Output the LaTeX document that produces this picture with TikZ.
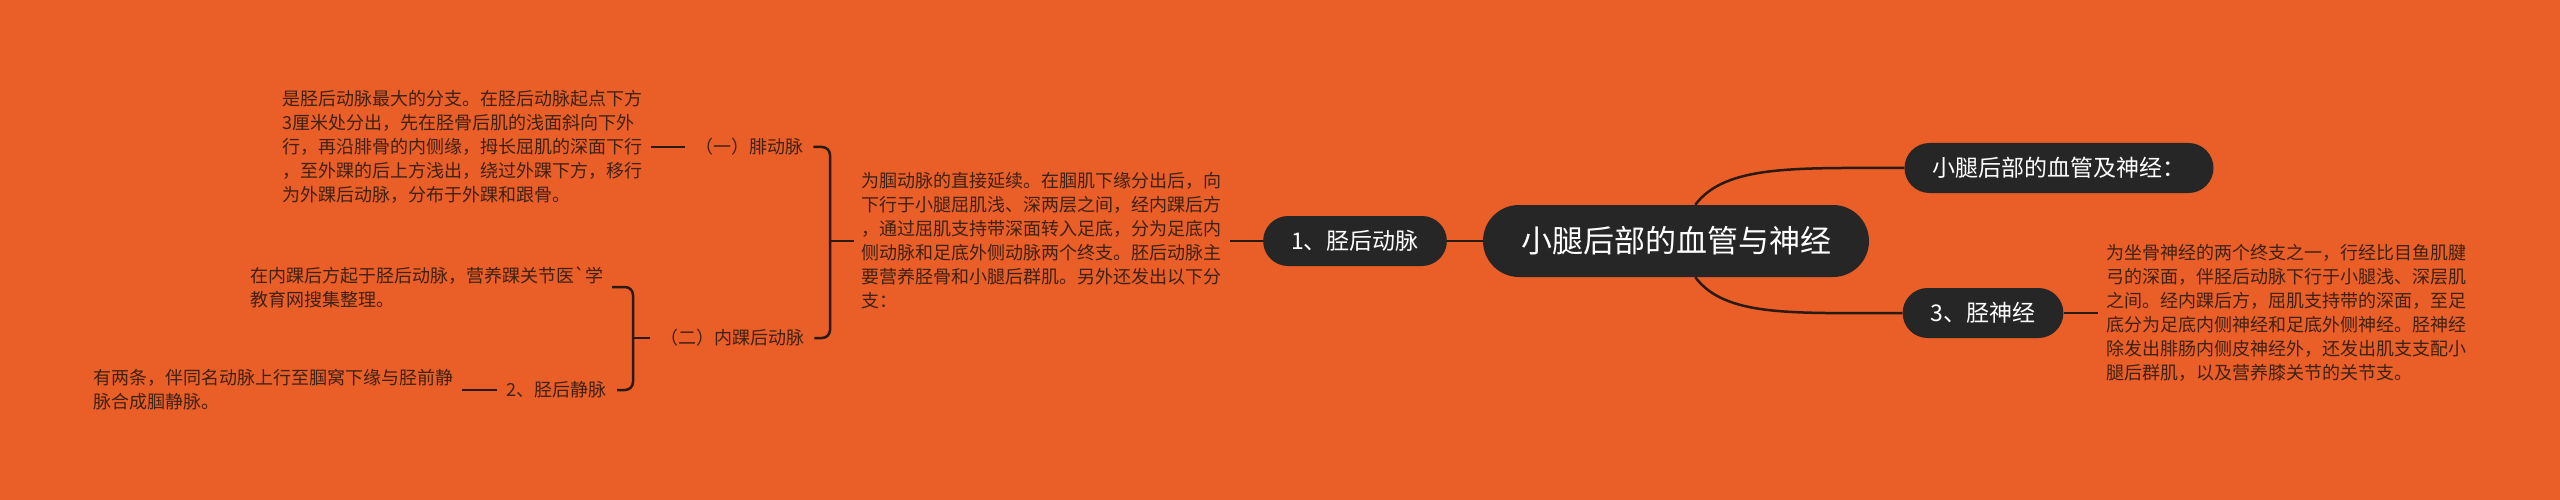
\documentclass[tikz,border=0pt]{standalone}
\usepackage{fontspec}
\newfontfamily\cjk{Noto Sans CJK SC}
\definecolor{bgorange}{RGB}{234,94,40}
\definecolor{nodegray}{RGB}{38,38,38}
\definecolor{textbrown}{RGB}{62,34,20}
\definecolor{linebrown}{RGB}{42,26,20}

\begin{document}
\begin{tikzpicture}
[x=1pt,y=-1pt,
centre/.style={fill=nodegray,text=white,rounded corners=36pt,minimum height=72pt,inner xsep=38pt,font=\cjk\fontsize{31}{36}\selectfont},
topic/.style={fill=nodegray,text=white,rounded corners=25pt,minimum height=50pt,inner xsep=28pt,font=\cjk\fontsize{23}{28}\selectfont},
branch/.style={text=textbrown,inner xsep=10pt,font=\cjk\fontsize{18}{24}\selectfont},
note/.style={text=textbrown,align=left,inner xsep=8pt,font=\cjk\fontsize{18}{24}\selectfont},
wire/.style={draw=linebrown,line width=2.5pt}]
\useasboundingbox (0,0) rectangle (2560,500);
\fill[bgorange] (0,0) rectangle (2560,500);
\node[centre] (main) at (1676,241) {小腿后部的血管与神经};
\node[topic] (n1) at (1355,241) {1、胫后动脉};
\node[topic] (n2) at (2059,168) {小腿后部的血管及神经：};
\node[topic] (n3) at (1983,313) {3、胫神经};
\node[note,anchor=east] (t1) at (1230,241) {为腘动脉的直接延续。在腘肌下缘分出后，向\\下行于小腿屈肌浅、深两层之间，经内踝后方\\，通过屈肌支持带深面转入足底，分为足底内\\侧动脉和足底外侧动脉两个终支。胚后动脉主\\要营养胫骨和小腿后群肌。另外还发出以下分\\支：};
\node[note,anchor=west] (t4) at (2098,313) {为坐骨神经的两个终支之一，行经比目鱼肌腱\\弓的深面，伴胫后动脉下行于小腿浅、深层肌\\之间。经内踝后方，屈肌支持带的深面，至足\\底分为足底内侧神经和足底外侧神经。胫神经\\除发出腓肠内侧皮神经外，还发出肌支支配小\\腿后群肌，以及营养膝关节的关节支。};
\node[branch,anchor=west] (l1) at (685,147) {（一）腓动脉};
\node[branch,anchor=west] (l2) at (650,338) {（二）内踝后动脉};
\node[branch,anchor=east] (l3) at (617,390) {2、胫后静脉};
\node[note,anchor=east] (t0) at (651,147) {是胫后动脉最大的分支。在胫后动脉起点下方\\3厘米处分出，先在胫骨后肌的浅面斜向下外\\行，再沿腓骨的内侧缘，拇长屈肌的深面下行\\，至外踝的后上方浅出，绕过外踝下方，移行\\为外踝后动脉，分布于外踝和跟骨。};
\node[note,anchor=east] (t2) at (612,287) {在内踝后方起于胫后动脉，营养踝关节医`学\\教育网搜集整理。};
\node[note,anchor=east] (t3) at (462,390) {有两条，伴同名动脉上行至腘窝下缘与胫前静\\脉合成腘静脉。};
\coordinate (c1) at (830,241);
\coordinate (c2) at (633,338);
\foreach \from/\to in {n1/main,t1/n1,n3/t4,t0/l1,t3/l3,c1/t1,c2/l2}
\draw[wire] (\from) -- (\to);
\draw[wire,rounded corners=8pt] (l1.east) -| (c1) |- (l2.east);
\draw[wire,rounded corners=8pt] (t2.east) -| (c2) |- (l3.east);
\draw[wire] (main.62) .. controls +(30,-40) and +(-110,0) .. (n2.west);
\draw[wire] (main.-62) .. controls +(30,40) and +(-110,0) .. (n3.west);
\end{tikzpicture}
\end{document}
